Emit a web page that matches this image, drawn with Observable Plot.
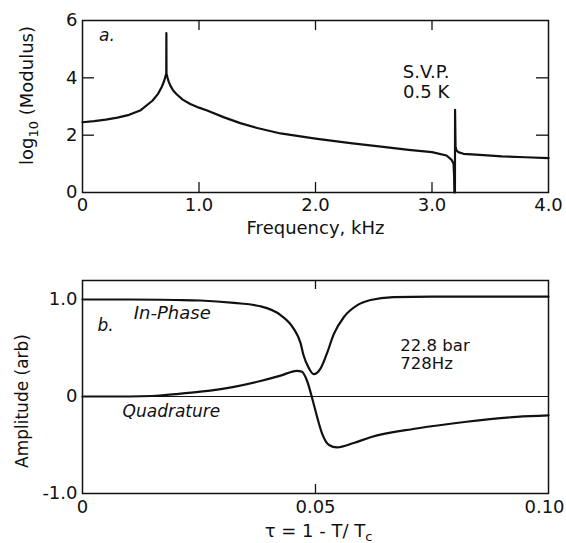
<!DOCTYPE html>
<html><head><meta charset="utf-8">
<script src="https://cdn.jsdelivr.net/npm/d3@7"></script>
<script src="https://cdn.jsdelivr.net/npm/@observablehq/plot@0.6"></script>
<style>
body{margin:0;background:#fff;}
#chart{position:relative;width:566px;height:543px;overflow:hidden;background:#fff;}
#chart svg{position:absolute;left:0;}
</style></head><body><div id="chart"></div>
<script>
// ---- Panel a: log10(modulus) vs frequency ----
const freqKHz = [0, 0.1, 0.2, 0.3, 0.4, 0.5, 0.6, 0.65, 0.68, 0.70, 0.71, 0.719, 0.72, 0.721, 0.73, 0.74, 0.754, 0.78, 0.81, 0.86, 0.925, 1.0, 1.07, 1.21, 1.354, 1.5, 1.7, 2.0, 2.3, 2.6, 2.8, 3.0, 3.125, 3.168, 3.185, 3.19, 3.192, 3.197, 3.198, 3.202, 3.21, 3.225, 3.27, 3.41, 3.6, 3.8, 4.0];
const logModulus = [2.45, 2.49, 2.54, 2.61, 2.71, 2.87, 3.2, 3.45, 3.68, 3.88, 4.02, 4.15, 5.56, 4.15, 4.0, 3.87, 3.73, 3.55, 3.42, 3.24, 3.09, 2.96, 2.86, 2.63, 2.42, 2.25, 2.06, 1.88, 1.72, 1.58, 1.49, 1.41, 1.29, 1.14, 1.0, 0.55, 0, 0, 2.88, 1.6, 1.47, 1.41, 1.35, 1.31, 1.26, 1.23, 1.2];
const freqTicks = [0, 1, 2, 3, 4];
const freqTickLabels = ["0", "1.0", "2.0", "3.0", "4.0"];
const modTicks = [0, 2, 4, 6];
const modTickLabels = ["0", "2", "4", "6"];

// ---- Panel b: amplitude vs reduced temperature ----
const tauIn = [0, 0.01, 0.02, 0.0253, 0.0325, 0.0382, 0.0425, 0.0453, 0.0468, 0.0474, 0.0486, 0.0496, 0.0511, 0.0525, 0.0539, 0.0561, 0.0589, 0.0618, 0.0667, 0.075, 0.1];
const inPhase = [1.0, 1.0, 0.995, 0.99, 0.965, 0.93, 0.84, 0.70, 0.55, 0.43, 0.29, 0.23, 0.29, 0.45, 0.64, 0.82, 0.94, 0.995, 1.025, 1.03, 1.03];
const tauQ = [0, 0.01, 0.015, 0.02, 0.0253, 0.0325, 0.0382, 0.0425, 0.046, 0.0471, 0.0482, 0.0493, 0.0504, 0.0514, 0.0529, 0.0546, 0.0582, 0.0618, 0.0717, 0.0824, 0.0932, 0.1];
const quadrature = [0, 0, 0.005, 0.025, 0.05, 0.10, 0.16, 0.215, 0.265, 0.255, 0.16, -0.02, -0.22, -0.38, -0.50, -0.525, -0.48, -0.42, -0.33, -0.26, -0.21, -0.195];
const tauTicks = [0, 0.05, 0.1];
const tauTickLabels = ["0", "0.05", "0.10"];
const ampTicks = [-1, 0, 1];
const ampTickLabels = ["-1.0", "0", "1.0"];

const FONT = "'DejaVu Sans', 'Liberation Sans', sans-serif";
const INK = "#111";
const W = 566, ML = 82, MR = 18;
const innerW = W - ML - MR;

function fmt(ticks, labels) { return d => labels[ticks.findIndex(t => Math.abs(t - d) < 1e-9)]; }

function subscript(svg, full, base, sub, rest, shift, size) {
  svg.querySelectorAll("text").forEach(t => {
    if (t.textContent === full) {
      while (t.firstChild) t.removeChild(t.firstChild);
      const ns = "http://www.w3.org/2000/svg";
      t.appendChild(document.createTextNode(base));
      const s = document.createElementNS(ns, "tspan");
      s.setAttribute("dy", shift); s.setAttribute("font-size", size); s.textContent = sub;
      t.appendChild(s);
      if (rest) {
        const r = document.createElementNS(ns, "tspan");
        r.setAttribute("dy", -shift); r.textContent = rest;
        t.appendChild(r);
      }
    }
  });
}

// ---------- Panel a ----------
const H1 = 240, MT1 = 20, MB1 = 48;
const f0 = freqTicks[0], f1 = freqTicks[freqTicks.length - 1];
const m0 = modTicks[0], m1 = modTicks[modTicks.length - 1];
const yLen1 = 10 * (m1 - m0) / (H1 - MT1 - MB1);
const xLen1 = 12 * (f1 - f0) / innerW;
const innerF = freqTicks.filter(t => t > f0 && t < f1);
const innerM = modTicks.filter(t => t > m0 && t < m1);
const dataA = freqKHz.map((f, i) => ({f, m: logModulus[i]}));

const plotA = Plot.plot({
  width: W, height: H1, marginLeft: ML, marginRight: MR, marginTop: MT1, marginBottom: MB1,
  style: {fontFamily: FONT, fontSize: "18px", color: INK, background: "white", overflow: "visible"},
  x: {domain: [f0, f1], ticks: freqTicks, tickFormat: fmt(freqTicks, freqTickLabels), tickSize: 0, tickPadding: 6, label: null},
  y: {domain: [m0, m1], ticks: modTicks, tickFormat: fmt(modTicks, modTickLabels), tickSize: 0, tickPadding: 5, label: null},
  marks: [
    Plot.frame({stroke: INK, strokeWidth: 1.5}),
    Plot.ruleX(innerF, {y1: m0, y2: m0 + yLen1, stroke: INK, strokeWidth: 1.3}),
    Plot.ruleX(innerF, {y1: m1, y2: m1 - yLen1, stroke: INK, strokeWidth: 1.3}),
    Plot.ruleY(innerM, {x1: f0, x2: f0 + xLen1, stroke: INK, strokeWidth: 1.3}),
    Plot.ruleY(innerM, {x1: f1, x2: f1 - xLen1, stroke: INK, strokeWidth: 1.3}),
    Plot.line(dataA, {x: "f", y: "m", stroke: INK, strokeWidth: 2.2}),
    Plot.text(["a."], {x: 0.21, y: 5.48, text: d => d, fontStyle: "italic", fontSize: 17, textAnchor: "middle"}),
    Plot.text(["S.V.P."], {x: 2.95, y: 4.19, text: d => d, fontSize: 18}),
    Plot.text(["0.5 K"], {x: 2.95, y: 3.49, text: d => d, fontSize: 18}),
    Plot.text(["Frequency, kHz"], {frameAnchor: "bottom", textAnchor: "middle", dy: 41, text: d => d, fontSize: 18}),
    Plot.text(["log10 (Modulus)"], {frameAnchor: "left", textAnchor: "middle", rotate: -90, dx: -55, dy: -11, text: d => d, fontSize: 18})
  ]
});
plotA.style.top = "0px";
subscript(plotA, "log10 (Modulus)", "log", "10", " (Modulus)", 5, 13);
document.getElementById("chart").appendChild(plotA);

// ---------- Panel b ----------
const H2 = 303, MT2 = 40, MB2 = 50;
const t0 = tauTicks[0], t1 = tauTicks[tauTicks.length - 1];
const aLo = ampTicks[0], aHi = 1.196;
const yLen2 = 9 * (aHi - aLo) / (H2 - MT2 - MB2);
const innerT = tauTicks.filter(t => t > t0 && t < t1);
const dataIn = tauIn.map((t, i) => ({t, v: inPhase[i]}));
const dataQ = tauQ.map((t, i) => ({t, v: quadrature[i]}));

const plotB = Plot.plot({
  width: W, height: H2, marginLeft: ML, marginRight: MR, marginTop: MT2, marginBottom: MB2,
  style: {fontFamily: FONT, fontSize: "18px", color: INK, background: "white", overflow: "visible"},
  x: {domain: [t0, t1], ticks: tauTicks, tickFormat: fmt(tauTicks, tauTickLabels), tickSize: 0, tickPadding: 7, label: null},
  y: {domain: [aLo, aHi], ticks: ampTicks, tickFormat: fmt(ampTicks, ampTickLabels), tickSize: 0, tickPadding: 5, label: null},
  marks: [
    Plot.frame({stroke: INK, strokeWidth: 1.5}),
    Plot.ruleY([0], {stroke: INK, strokeWidth: 1}),
    Plot.ruleX(innerT, {y1: aLo, y2: aLo + yLen2, stroke: INK, strokeWidth: 1.3}),
    Plot.ruleX(innerT, {y1: aHi, y2: aHi - yLen2, stroke: INK, strokeWidth: 1.3}),
    Plot.line(dataIn, {x: "t", y: "v", stroke: INK, strokeWidth: 2.2, curve: "monotone-x"}),
    Plot.line(dataQ, {x: "t", y: "v", stroke: INK, strokeWidth: 2.2, curve: "monotone-x"}),
    Plot.text(["b."], {x: 0.0032, y: 0.73, text: d => d, fontStyle: "italic", fontSize: 17, textAnchor: "start"}),
    Plot.text(["In-Phase"], {x: 0.011, y: 0.86, text: d => d, fontStyle: "italic", fontSize: 18, textAnchor: "start"}),
    Plot.text(["Quadrature"], {x: 0.0086, y: -0.16, text: d => d, fontStyle: "italic", fontSize: 17, textAnchor: "start"}),
    Plot.text(["22.8 bar"], {x: 0.0682, y: 0.525, text: d => d, fontSize: 16.5, textAnchor: "start"}),
    Plot.text(["728Hz"], {x: 0.0682, y: 0.34, text: d => d, fontSize: 16.5, textAnchor: "start"}),
    Plot.text(["τ = 1 - T/ Tc"], {frameAnchor: "bottom", textAnchor: "middle", dx: 3, dy: 43, text: d => d, fontSize: 18}),
    Plot.text(["Amplitude (arb)"], {frameAnchor: "left", textAnchor: "middle", rotate: -90, dx: -60, dy: 14, text: d => d, fontSize: 17})
  ]
});
plotB.style.top = "240px";
subscript(plotB, "τ = 1 - T/ Tc", "τ = 1 - T/ T", "c", "", 4, 13);
// keep the last tick label inside the page edge, as in the reference
plotB.querySelectorAll("text").forEach(t => { if (t.textContent === "0.10") t.setAttribute("dx", -4); });
document.getElementById("chart").appendChild(plotB);
</script></body></html>
